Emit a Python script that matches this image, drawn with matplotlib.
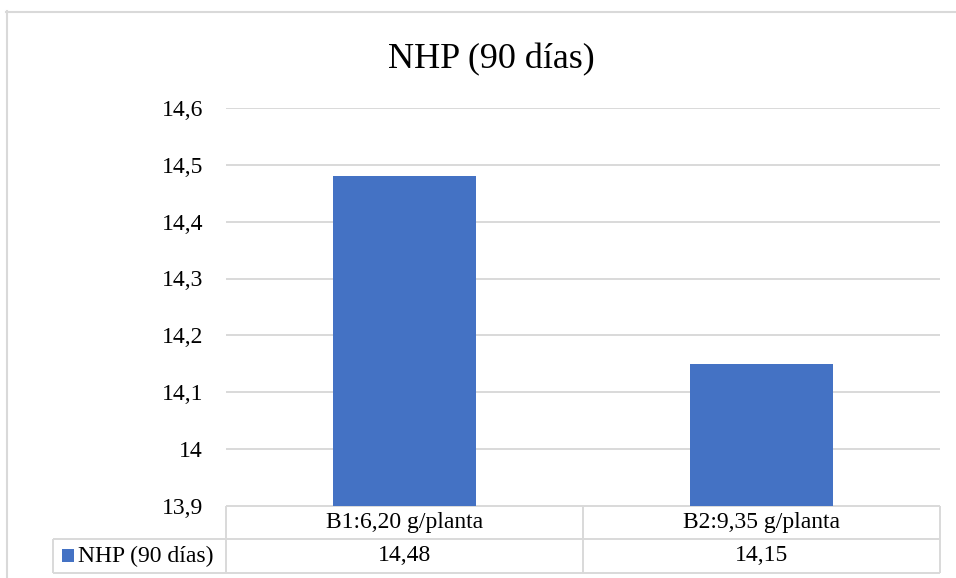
import matplotlib
matplotlib.use("Agg")
import matplotlib.pyplot as plt
from matplotlib.patches import Rectangle
from matplotlib.transforms import blended_transform_factory

# ---- data ----
categories = ["B1:6,20 g/planta", "B2:9,35 g/planta"]
values = [14.48, 14.15]
series_name = "NHP (90 días)"
title = "NHP (90 días)"
y_ticks = [13.9, 14.0, 14.1, 14.2, 14.3, 14.4, 14.5, 14.6]
y_tick_labels = ["13,9", "14", "14,1", "14,2", "14,3", "14,4", "14,5", "14,6"]
value_labels = ["14,48", "14,15"]

W, H = 956, 578
BAR = "#4472C4"
GRID = "#D9D9D9"
FONT = "Liberation Serif"
FS = 17

fig = plt.figure(figsize=(W / 100, H / 100), dpi=100)
fig.patch.set_facecolor("white")


def fx(x):
    return x / W


def fy(y):
    return 1 - y / H


# axes placement (pixels)
ax_l, ax_r, ax_t, ax_b = 226, 940, 108.25, 505.5
ax = fig.add_axes([fx(ax_l), fy(ax_b), fx(ax_r - ax_l), (ax_b - ax_t) / H])

xs = list(range(len(categories)))
ax.bar(xs, values, width=0.4, color=BAR, zorder=3)
ax.set_xlim(-0.5, len(categories) - 0.5)
ax.set_ylim(y_ticks[0], y_ticks[-1])
ax.set_yticks(y_ticks)
ax.set_yticklabels(y_tick_labels, fontfamily=FONT, fontsize=FS)
ax.set_xticks([])
ax.tick_params(axis="y", length=0, pad=16.5)
for s in ax.spines.values():
    s.set_visible(False)
for t in y_ticks[1:]:
    ax.axhline(t, color=GRID, lw=1.4, zorder=1)

# ---- data table below axes ----
row_h = 33.5 / (ax_b - ax_t)  # in axes fraction
trans = blended_transform_factory(ax.transData, ax.transAxes)
lk = dict(color=GRID, lw=1.4, clip_on=False, transform=trans, solid_capstyle="butt")
x0, x1 = -0.5, len(categories) - 0.5
# horizontal lines
ax.plot([x0, x1], [0, 0], **lk)
# legend column left (figure pixels)
leg_left = 53
legend_left_data = (leg_left - ax_l) / (ax_r - ax_l) * (x1 - x0) + x0
ax.plot([legend_left_data, x1], [-row_h, -row_h], **lk)
ax.plot([legend_left_data, x1], [-2 * row_h, -2 * row_h], **lk)
# vertical lines
for b in [x0 + i for i in range(len(categories) + 1)]:
    ax.plot([b, b], [0, -2 * row_h], **lk)
ax.plot([legend_left_data, legend_left_data], [-row_h, -2 * row_h], **lk)

for i, (c, v) in enumerate(zip(categories, value_labels)):
    ax.text(i, -0.5 * row_h, c, transform=trans, ha="center", va="center",
            fontfamily=FONT, fontsize=FS, color="black")
    ax.text(i, -1.5 * row_h, v, transform=trans, ha="center", va="center",
            fontfamily=FONT, fontsize=FS, color="black")

# legend key in data table
fig.patches.append(Rectangle((fx(62), fy(562)), fx(12), 13 / H, transform=fig.transFigure,
                             facecolor=BAR, edgecolor="none"))
fig.text(fx(78), fy(556), series_name, ha="left", va="center",
         fontfamily=FONT, fontsize=FS, color="black")

# title
fig.text(fx(491), fy(68), title, ha="center", va="baseline",
         fontfamily=FONT, fontsize=26, color="black")

# chart area border
fig.add_artist(plt.Line2D([fx(6), fx(W)], [fy(11.5), fy(11.5)], transform=fig.transFigure,
                          color=GRID, lw=1.5))
fig.add_artist(plt.Line2D([fx(6.5), fx(6.5)], [fy(11), fy(H)], transform=fig.transFigure,
                          color=GRID, lw=1.5))

fig.savefig("out.png", dpi=100, facecolor="white")
